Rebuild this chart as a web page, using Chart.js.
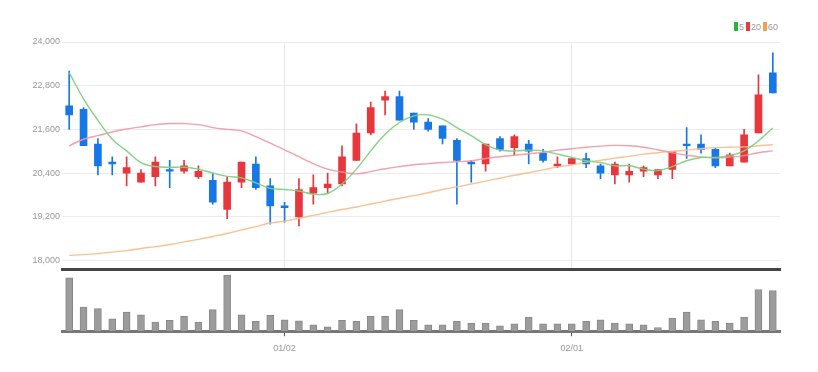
<!DOCTYPE html>
<html>
<head>
<meta charset="utf-8">
<script src="https://cdn.jsdelivr.net/npm/chart.js@4.4.1/dist/chart.umd.min.js"></script>
<style>
    body { margin: 0; background: #fff; }
    #wrap { position: relative; width: 818px; height: 372px; }
    canvas { position: absolute; left: 0; }
    #priceChart { top: 0; }
    #volumeChart { top: 270px; }
    #legend {
        position: absolute; top: 22px; right: 40px;
        font: 9px 'Liberation Sans Narrow', 'Liberation Sans', sans-serif;
        color: #999; white-space: nowrap; line-height: 11px;
    }
    #legend span.box { display: inline-block; width: 4px; height: 9px; vertical-align: -1px; margin: 0 1px 0 2px; }
</style>
</head>
<body>
<div id="wrap">
    <canvas id="priceChart" width="818" height="277" style="width:818px;height:277px"></canvas>
    <canvas id="volumeChart" width="818" height="102" style="width:818px;height:102px"></canvas>
    <div id="legend"></div>
</div>
<script>
// trading days (MM/DD), label shown on first day of a month
var dates = ['12/09','12/12','12/13','12/14','12/15','12/16','12/19','12/20','12/21','12/22',
    '12/23','12/26','12/27','12/28','12/29','01/02','01/03','01/04','01/05','01/06',
    '01/09','01/10','01/11','01/12','01/13','01/16','01/17','01/18','01/19','01/20',
    '01/25','01/26','01/27','01/30','01/31','02/01','02/02','02/03','02/06','02/07',
    '02/08','02/09','02/10','02/13','02/14','02/15','02/16','02/17','02/20','02/21'];

var opens  = [22250,22150,21200,20700,20400,20150,20300,20500,20450,20300,
    20200,19400,20150,20650,20050,19500,19200,19850,20000,20100,
    20750,21500,22400,22500,22050,21800,21700,21300,20700,20650,
    21350,21100,21200,20950,20600,20650,20800,20600,20350,20350,
    20450,20350,20500,21200,21200,21050,20600,20700,21500,23150];
var highs  = [23200,22200,21350,20850,20850,20500,20850,20750,20750,20600,
    20400,20300,20700,20850,20250,19600,20250,20350,20400,21150,
    21750,22350,22650,22650,22050,21900,21700,21350,20750,21200,
    21400,21450,21300,21050,20850,20800,20950,20650,20700,20650,
    20600,20500,21000,21650,21450,21100,20950,21600,23100,23700];
var lows   = [21600,21150,20350,20350,20050,20150,20050,20000,20400,20250,
    19550,19150,20000,19950,19000,19050,18950,19550,19850,20050,
    20750,21450,22000,21850,21600,21550,21200,19550,20150,20450,
    21000,20900,20650,20700,20550,20650,20550,20250,20100,20150,
    20300,20250,20250,20800,20950,20550,20600,20700,21500,22600];
var closes = [22000,21150,20600,20650,20550,20400,20700,20450,20600,20450,
    19600,20150,20700,20000,19500,19450,19950,20000,20100,20850,
    21500,22200,22500,21850,21800,21600,21350,20750,20650,21200,
    21050,21400,21000,20750,20650,20800,20650,20400,20650,20450,
    20550,20500,21000,21150,21050,20600,20900,21450,22550,22600];

var ma5  = [23160,22440,21850,21330,21010,20690,20580,20560,20560,20510,
    20400,20310,20270,20130,19980,19950,19910,19820,19840,20100,
    20510,21010,21470,21790,21970,22000,21880,21650,21430,21180,
    21030,21010,21030,21010,20920,20830,20740,20690,20600,20600,
    20510,20470,20580,20740,20830,20830,20880,21010,21290,21640];
var ma20 = [21150,21330,21430,21530,21610,21670,21730,21760,21760,21730,
    21650,21600,21560,21400,21220,21040,20850,20660,20510,20430,
    20380,20440,20520,20580,20630,20660,20690,20710,20740,20800,
    20850,20890,20930,20970,21030,21070,21110,21140,21160,21150,
    21110,21040,20960,20890,20840,20820,20840,20880,20960,21010];
var ma60 = [18140,18160,18190,18230,18270,18330,18380,18440,18510,18580,
    18660,18740,18840,18930,19030,19080,19160,19240,19320,19400,
    19470,19550,19630,19710,19780,19860,19950,20020,20100,20180,
    20260,20340,20410,20490,20570,20620,20700,20750,20810,20860,
    20920,20960,21000,21030,21070,21100,21110,21120,21150,21180];

var volumes = [159000,72000,67000,37000,57000,49000,27000,32000,44000,27000,
    64000,167000,49000,29000,47000,34000,31000,19000,13000,32000,
    29000,44000,44000,64000,32000,19000,19000,29000,24000,24000,
    16000,22000,42000,22000,22000,22000,29000,34000,24000,22000,
    19000,11000,39000,57000,34000,29000,24000,42000,124000,121000];

var priceTicks = [18000, 19200, 20400, 21600, 22800, 24000];

(function () {
    'use strict';

    var RED = '#e8363c';
    var BLUE = '#1877e6';
    var FONT = "'Liberation Sans Narrow', 'Liberation Sans', sans-serif";

    Chart.defaults.font.family = FONT;
    Chart.defaults.font.size = 9;
    Chart.defaults.color = '#999';

    function monthStart(i) {
        return i > 0 && dates[i].slice(0, 2) !== dates[i - 1].slice(0, 2);
    }

    var candleColors = closes.map(function (c, i) {
        return c >= opens[i] ? RED : BLUE;
    });

    function maLine(label, data, color, legendColor) {
        return {
            type: 'line',
            label: label,
            data: data,
            borderColor: color,
            borderWidth: 1.4,
            pointRadius: 0,
            tension: 0.4,
            legendColor: legendColor
        };
    }

    var priceChart = new Chart(document.getElementById('priceChart'), {
        type: 'bar',
        data: {
            labels: dates,
            datasets: [
                maLine('5', ma5, 'rgba(125,208,125,0.95)', '#27b33f'),
                maLine('20', ma20, 'rgba(242,150,160,0.9)', '#ea3a3f'),
                maLine('60', ma60, 'rgba(250,190,140,0.95)', '#f5a04a'),
                {
                    label: 'body',
                    data: opens.map(function (o, i) { return [o, closes[i]]; }),
                    backgroundColor: candleColors,
                    barThickness: 7,
                    grouped: false
                },
                {
                    label: 'wick',
                    data: lows.map(function (l, i) { return [l, highs[i]]; }),
                    backgroundColor: candleColors,
                    barThickness: 1,
                    grouped: false
                }
            ]
        },
        options: {
            responsive: false,
            animation: false,
            layout: { padding: { top: 42, right: 38, left: 0, bottom: 0 } },
            scales: {
                x: {
                    offset: true,
                    grid: {
                        offset: false,
                        drawTicks: false,
                        color: function (ctx) { return monthStart(ctx.index) ? '#e8e8e8' : 'rgba(0,0,0,0)'; }
                    },
                    ticks: { display: false, autoSkip: false },
                    border: { display: true, color: '#444', width: 3 }
                },
                y: {
                    min: 17750,
                    max: 24000,
                    afterBuildTicks: function (scale) {
                        scale.ticks = priceTicks.map(function (v) { return { value: v }; });
                    },
                    afterFit: function (scale) { scale.width = 62; },
                    grid: { color: '#ececec', drawTicks: false },
                    border: { display: false },
                    ticks: {
                        padding: 2,
                        callback: function (v) { return v.toLocaleString('en-US'); }
                    }
                }
            },
            plugins: {
                tooltip: { enabled: false },
                legend: { display: false }
            }
        }
    });

    // small html legend for the moving averages
    var legendHtml = '';
    priceChart.data.datasets.slice(0, 3).forEach(function (d) {
        legendHtml += '<span class="box" style="background:' + d.legendColor + '"></span>' + d.label;
    });
    document.getElementById('legend').innerHTML = legendHtml;

    new Chart(document.getElementById('volumeChart'), {
        type: 'bar',
        data: {
            labels: dates,
            datasets: [{
                label: 'volume',
                data: volumes,
                backgroundColor: '#9c9c9c',
                borderColor: '#888',
                borderWidth: 1,
                barThickness: 7
            }]
        },
        options: {
            responsive: false,
            animation: false,
            layout: { padding: { top: 2, right: 38, left: 0, bottom: 11 } },
            scales: {
                x: {
                    offset: true,
                    grid: {
                        offset: false,
                        drawOnChartArea: false,
                        tickLength: 5,
                        tickColor: function (ctx) { return monthStart(ctx.index) ? '#555' : 'rgba(0,0,0,0)'; }
                    },
                    border: { display: true, color: '#777', width: 3 },
                    ticks: {
                        autoSkip: false,
                        maxRotation: 0,
                        padding: 7,
                        callback: function (v, i) { return monthStart(i) ? dates[i] : ''; }
                    }
                },
                y: {
                    min: 0,
                    max: 176000,
                    afterFit: function (scale) { scale.width = 62; },
                    grid: { display: false },
                    border: { display: false },
                    ticks: { display: false }
                }
            },
            plugins: {
                tooltip: { enabled: false },
                legend: { display: false }
            }
        }
    });
})();
</script>
</body>
</html>
